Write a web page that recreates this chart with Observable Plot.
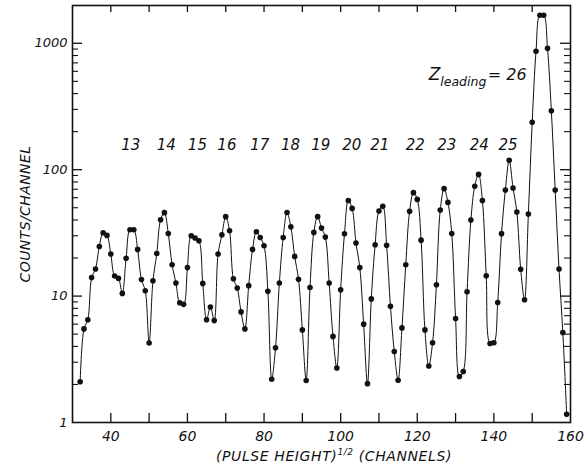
<!DOCTYPE html>
<html><head><meta charset="utf-8">
<script src="https://cdn.jsdelivr.net/npm/d3@7"></script>
<script src="https://cdn.jsdelivr.net/npm/@observablehq/plot@0.6"></script>
<style>html,body{margin:0;padding:0;background:#fff} svg{display:block}</style>
</head><body><div id="chart"></div>
<script>
// ---- data ----
const firstChannel = 32;
const counts = [
  2.1, 5.5, 6.5, 14.0, 16.4, 24.7, 31.7, 30.2, 21.5, 14.4,      // 32-41
  13.8, 10.5, 19.9, 33.5, 33.5, 23.4, 13.5, 11.0, 4.25, 13.2,   // 42-51
  21.7, 40.2, 45.7, 31.3, 17.7, 12.7, 8.85, 8.6, 16.8, 30.0,    // 52-61
  28.8, 27.4, 12.6, 6.5, 8.2, 6.4, 21.5, 30.5, 42.5, 32.9,      // 62-71
  13.7, 11.6, 7.5, 5.5, 12.1, 23.4, 32.3, 29.1, 25.0, 10.9,     // 72-81
  2.2, 3.9, 12.7, 29.1, 45.9, 35.3, 20.6, 13.6, 5.4, 2.15,      // 82-91
  11.7, 31.9, 42.5, 34.5, 29.3, 12.7, 4.8, 2.7, 11.2, 31.1,     // 92-101
  57.1, 49.4, 26.3, 16.8, 6.0, 2.03, 9.5, 25.5, 47.1, 51.3,     // 102-111
  25.2, 8.3, 3.64, 2.16, 5.6, 17.7, 46.8, 65.8, 58.2, 27.7,     // 112-121
  5.4, 2.8, 4.28, 12.3, 48.0, 70.8, 55.1, 31.3, 6.65, 2.31,     // 122-131
  2.53, 10.8, 40.0, 73.8, 91.8, 57.1, 14.5, 4.22, 4.27, 8.9,    // 132-141
  31.2, 69.1, 118.5, 71.6, 46.2, 16.3, 9.35, 44.6, 237, 865,    // 142-151
  1667, 1667, 912, 292, 69, 16.4, 5.15, 1.16                    // 152-159
];
const peakZ = [13, 14, 15, 16, 17, 18, 19, 20, 21, 22, 23, 24, 25];
const peakX = [45.2, 54.5, 62.6, 70.3, 78.9, 86.9, 94.8, 102.9, 110.2, 119.5, 127.7, 136.2, 143.7];
const peakLabelY = 155;
const xTickValues = [40, 50, 60, 70, 80, 90, 100, 110, 120, 130, 140, 150];
const xTickLabels = [40, 60, 80, 100, 120, 140, 160];
const yMajor = [10, 100, 1000];
const yMinor = [2,3,4,5,6,7,8,9, 20,30,40,50,60,70,80,90, 200,300,400,500,600,700,800,900];
const yTickLabels = [1, 10, 100, 1000];

const data = counts.map((v, i) => ({ch: firstChannel + i, v}));
const peaks = peakZ.map((z, i) => ({z: String(z), x: peakX[i], y: peakLabelY}));

const W = 588, H = 472, mL = 72, mR = 18, mT = 5, mB = 50;
const innerW = W - mL - mR, innerH = H - mT - mB;
const font = "'DejaVu Sans', sans-serif";
const ink = "#111";

const plot = Plot.plot({
  width: W, height: H,
  marginLeft: mL, marginRight: mR, marginTop: mT, marginBottom: mB,
  style: {fontFamily: font, fontStyle: "italic", fontSize: "13px", color: ink, background: "#fff"},
  x: {domain: [30, 160]},
  y: {type: "log", domain: [1, 1990]},
  marks: [
    Plot.frame({stroke: ink, strokeWidth: 1.6}),
    Plot.tickX(xTickValues, {x: d => d, insetTop: innerH - 9, stroke: ink, strokeWidth: 1.3}),
    Plot.tickX(xTickValues, {x: d => d, insetBottom: innerH - 7, stroke: ink, strokeWidth: 1.3}),
    Plot.tickY(yMajor, {y: d => d, insetRight: innerW - 10, stroke: ink, strokeWidth: 1.3}),
    Plot.tickY(yMinor, {y: d => d, insetRight: innerW - 6, stroke: ink, strokeWidth: 1.1}),
    Plot.tickY(yMajor, {y: d => d, insetLeft: innerW - 10, stroke: ink, strokeWidth: 1.3}),
    Plot.tickY(yMinor, {y: d => d, insetLeft: innerW - 6, stroke: ink, strokeWidth: 1.1}),
    Plot.axisX({ticks: xTickLabels, tickSize: 0, tickPadding: 9, label: null, fontSize: 14}),
    Plot.axisY({ticks: yTickLabels, tickSize: 0, tickPadding: 5, tickFormat: d => String(d), label: null, fontSize: 13}),
    Plot.line(data, {x: "ch", y: "v", curve: "catmull-rom", stroke: ink, strokeWidth: 1}),
    Plot.dot(data, {x: "ch", y: "v", r: 2.8, fill: ink, stroke: "none"}),
    Plot.text(peaks, {x: "x", y: "y", text: "z", fontSize: 15, fill: ink}),
    Plot.text(["Z"], {x: 123.0, y: 565, text: d => d, textAnchor: "start", fontSize: 17, fill: ink}),
    Plot.text(["leading"], {x: 126.0, y: 495, text: d => d, textAnchor: "start", fontSize: 12.5, fill: ink}),
    Plot.text(["= 26"], {x: 138.4, y: 565, text: d => d, textAnchor: "start", fontSize: 16, fill: ink})
  ]
});
document.getElementById("chart").appendChild(plot);

// axis titles
const svg = d3.select(plot);
const xt = svg.append("text")
  .attr("x", 334).attr("y", 461)
  .attr("text-anchor", "middle")
  .attr("font-family", font).attr("font-style", "italic").attr("font-size", 14)
  .attr("letter-spacing", 0.6).attr("fill", ink);
xt.append("tspan").text("(PULSE HEIGHT)");
xt.append("tspan").attr("dy", -6).attr("font-size", 9).text("1/2");
xt.append("tspan").attr("dy", 6).text(" (CHANNELS)");

svg.append("text")
  .attr("transform", "translate(30,214) rotate(-90)")
  .attr("text-anchor", "middle")
  .attr("font-family", font).attr("font-style", "italic").attr("font-size", 14)
  .attr("letter-spacing", 0.4).attr("fill", ink)
  .text("COUNTS/CHANNEL");
</script>
</body></html>
